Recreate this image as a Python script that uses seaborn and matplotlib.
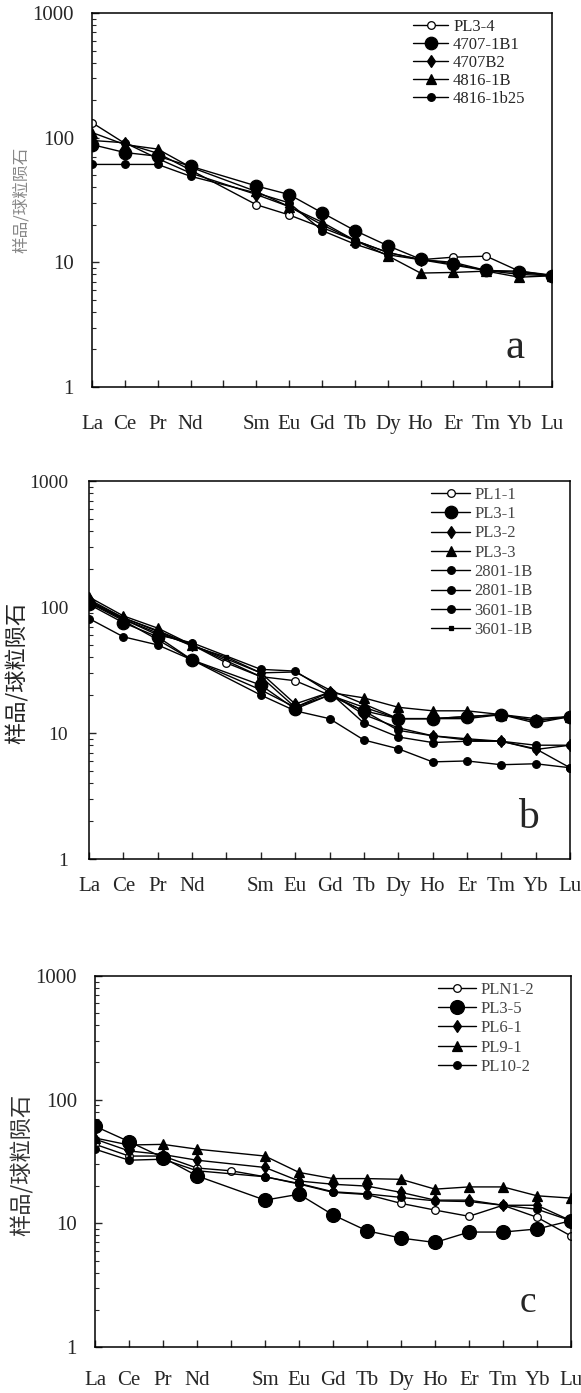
import numpy as np
import pandas as pd
import matplotlib
matplotlib.use("Agg")
import matplotlib.pyplot as plt
import seaborn as sns
from matplotlib.ticker import LogLocator, NullFormatter, FixedLocator

# Données (valeurs normalisées chondrite)
elements = ["La", "Ce", "Pr", "Nd", "Pm", "Sm", "Eu", "Gd", "Tb", "Dy", "Ho", "Er", "Tm", "Yb", "Lu"]
tick_labels = ["La", "Ce", "Pr", "Nd", "", "Sm", "Eu", "Gd", "Tb", "Dy", "Ho", "Er", "Tm", "Yb", "Lu"]
ylabel = "样品/球粒陨石"

# panneau a
a_names = ["PL3-4", "4707-1B1", "4707B2", "4816-1B", "4816-1b25"]
a_pl34 = [132, 90, 75, 55, None, 29, 24, 19, 15, 12, 10.5, 11, 11.2, 8.5, 7.9]
a_4707_1b1 = [88, 76, 71, 59, None, 41, 35, 25, 18, 13.6, 10.6, 9.7, 8.6, 8.3, 7.8]
a_4707b2 = [95, 91, 68, 52, None, 35, 28, 20, 15, 12, 10.5, 9.5, 8.6, 8.0, 7.8]
a_4816_1b = [110, 88, 81, 58, None, 37, 28, 21, 15, 11.3, 8.2, 8.3, 8.5, 7.6, 7.8]
a_4816_1b25 = [61, 61, 61, 49, None, 36, 30, 18, 14, 11.5, 10.5, 10, 8.6, 8.5, 7.8]

# panneau b
b_names = ["PL1-1", "PL3-1", "PL3-2", "PL3-3", "2801-1B", "2801-1B", "3601-1B", "3601-1B"]
b_pl11 = [110, 80, 62, 50, 36, 28, 26, 20, 16, 13, 13, 13.5, 14, 12.5, 13.5]
b_pl31 = [105, 75, 58, 38, None, 24, 15.5, 20, 15, 13, 13, 13.5, 14, 12.5, 13.5]
b_pl32 = [115, 82, 65, 50, None, 30, 17, 21, 14, 11, 9.5, 9, 8.6, 7.4, 8]
b_pl33 = [120, 85, 68, 50, None, 28, 16, 21, 19, 16, 15, 15, 14, 13, 13.5]
b_2801a = [110, 80, 60, 52, None, 32, 31, 21, 12, 9.3, 8.4, 8.6, 8.6, 8, 8]
b_2801b = [81, 58, 50, 38, None, 20, 15, 13, 8.8, 7.5, 5.9, 6, 5.6, 5.7, 5.3]
b_3601a = [108, 78, 55, 38, None, 22, 16, 20, 15, 10.5, 9.5, 8.8, 8.6, 7.5, 5.3]
b_3601b = [112, 82, 64, 49, 40, 30, 30.5, 22, 17, 13, 13, 13, 14, 12, 13.5]

# panneau c
c_names = ["PLN1-2", "PL3-5", "PL6-1", "PL9-1", "PL10-2"]
c_pln12 = [43.6, 35, 35, 28, 26.6, 23.8, 20.8, 17.8, 17.1, 14.5, 12.8, 11.4, 14, 11.2, 7.9]
c_pl35 = [61, 45.8, 34, 24.2, None, 15.4, 17.2, 11.7, 8.7, 7.6, 7.0, 8.5, 8.5, 9.0, 10.5]
c_pl61 = [48, 38.5, 36, 32.4, None, 28.3, 22, 20.7, 20, 17.8, 15.4, 15.4, 14, 14, 10.5]
c_pl91 = [49, 43, 43.5, 39.8, None, 35, 25.8, 23, 23, 22.7, 18.9, 19.7, 19.7, 16.7, 16]
c_pl102 = [39.8, 32.4, 33, 26.6, None, 23.8, 21, 18, 17.3, 16.2, 15.2, 15, 14, 13, 10.5]

W, H = 581, 1393

sns.set_style("ticks")
plt.rcParams['font.family'] = ['Liberation Serif', 'Noto Sans CJK SC']
plt.rcParams['axes.linewidth'] = 1.1

fig = plt.figure(figsize=(W / 100, H / 100), dpi=100)


def px_axes(l, t, r, b):
    return fig.add_axes([l / W, 1 - b / H, (r - l) / W, (b - t) / H])


def px_text(x, y, s, **kw):
    return fig.text(x / W, 1 - y / H, s, **kw)


# styles de marqueurs (par ordre de série)
def style(kind, big=9):
    if kind == "open":
        return dict(marker="o", markersize=5.5, markerfacecolor="white")
    if kind == "big":
        return dict(marker="o", markersize=big, markerfacecolor="black")
    if kind == "diamond":
        return dict(marker="d", markersize=6.5, markerfacecolor="black")
    if kind == "tri":
        return dict(marker="^", markersize=7.5, markerfacecolor="black")
    if kind == "small":
        return dict(marker="o", markersize=5.5, markerfacecolor="black")
    if kind == "square":
        return dict(marker="s", markersize=3, markerfacecolor="black")


def draw_panel(ax, names, series, kinds, big=9):
    x = np.arange(len(elements))
    for name, vals, kind in zip(names, series, kinds):
        df = pd.DataFrame({"x": x, "y": vals}).dropna()
        sns.lineplot(data=df, x="x", y="y", ax=ax, color="black", linewidth=1.0,
                     markeredgecolor="black", markeredgewidth=0.9, label=name,
                     sort=False, estimator=None, **style(kind, big))
    ax.set_yscale("log")
    ax.set_ylim(1, 1000)
    ax.set_xlim(0, 14)
    ax.yaxis.set_major_locator(FixedLocator([1, 10, 100, 1000]))
    ax.set_yticklabels(["1", "10", "100", "1000"])
    ax.yaxis.set_minor_locator(LogLocator(base=10, subs=np.arange(2, 10)))
    ax.yaxis.set_minor_formatter(NullFormatter())
    ax.set_xticks(x)
    ax.set_xticklabels(tick_labels)
    ax.tick_params(axis="y", which="major", direction="in", length=5, width=1)
    ax.tick_params(axis="y", which="minor", direction="in", length=3, width=0.8)
    ax.tick_params(axis="x", direction="in", length=5, width=1)
    ax.set_xlabel("")
    ax.set_ylabel("")
    for s in ax.spines.values():
        s.set_visible(True)
        s.set_color("black")


# --- panneau a ---
ax_a = px_axes(92, 13, 552, 387)
draw_panel(ax_a, a_names, [a_pl34, a_4707_1b1, a_4707b2, a_4816_1b, a_4816_1b25],
           ["open", "big", "diamond", "tri", "small"])
ax_a.tick_params(axis="y", labelsize=15, pad=13)
ax_a.tick_params(axis="x", labelsize=15, pad=20)
ax_a.legend(loc="upper left", bbox_to_anchor=(0.698, 0.985), frameon=False,
            fontsize=12, labelspacing=0.12, handlelength=2.1, handletextpad=0.3,
            borderpad=0, borderaxespad=0)
px_text(22, 200, ylabel, rotation=90, ha="center", va="center",
        fontsize=12, color="#888888", family=["Noto Sans CJK SC"])
px_text(515, 348, "a", ha="center", va="center", fontsize=31)

# --- panneau b ---
ax_b = px_axes(89, 481, 570, 859)
draw_panel(ax_b, b_names, [b_pl11, b_pl31, b_pl32, b_pl33, b_2801a, b_2801b, b_3601a, b_3601b],
           ["open", "big", "diamond", "tri", "small", "small", "small", "square"])
ax_b.tick_params(axis="y", labelsize=14, pad=15)
ax_b.tick_params(axis="x", labelsize=15, pad=13)
leg = ax_b.legend(loc="upper left", bbox_to_anchor=(0.711, 0.985), frameon=False,
                  fontsize=12, labelspacing=0.2, handlelength=2.35, handletextpad=0.25,
                  borderpad=0, borderaxespad=0)
for t in leg.get_texts():
    t.set_color("#444444")
px_text(17, 673, ylabel, rotation=90, ha="center", va="center",
        fontsize=16, color="#222222", family=["Noto Sans CJK SC"])
px_text(528, 818, "b", ha="center", va="center", fontsize=30)

# --- panneau c ---
ax_c = px_axes(95, 976, 571, 1347)
draw_panel(ax_c, c_names, [c_pln12, c_pl35, c_pl61, c_pl91, c_pl102],
           ["open", "big", "diamond", "tri", "small"], big=10)
ax_c.tick_params(axis="y", labelsize=15, pad=13)
ax_c.tick_params(axis="x", labelsize=15, pad=17)
leg = ax_c.legend(loc="upper left", bbox_to_anchor=(0.72, 0.985), frameon=False,
                  fontsize=12, labelspacing=0.2, handlelength=2.3, handletextpad=0.25,
                  borderpad=0, borderaxespad=0)
for t in leg.get_texts():
    t.set_color("#444444")
px_text(22, 1165, ylabel, rotation=90, ha="center", va="center",
        fontsize=16, color="#333333", family=["Noto Sans CJK SC"])
px_text(528, 1303, "c", ha="center", va="center", fontsize=27)

fig.savefig("out.png", dpi=100)
